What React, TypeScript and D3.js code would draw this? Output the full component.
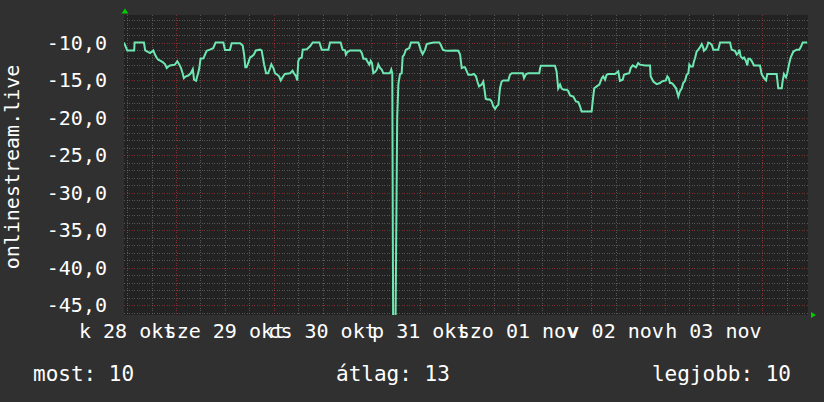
import React from 'react';
import * as d3 from 'd3';

// hours after the graph start (28 okt 11:14) and the measured value at that moment
const hours = [
  0, 0.8, 2.5, 2.6, 4.9, 5.2, 6.4, 7.2, 7.6, 8.0, 8.4, 9.0, 9.5, 10.1, 10.5, 10.9, 11.3, 12.5, 13.1, 13.6,
  14.0, 14.4, 14.7, 15.2, 15.8, 16.4, 16.9, 17.2, 17.7, 18.0, 18.35, 18.5, 18.8, 19.5, 20.3, 21.1, 21.9, 22.5, 24.4, 24.8,
  26.0, 26.45, 28.5, 29.15, 29.5, 29.8, 30.1, 30.5, 30.95, 31.4, 31.9, 32.4, 33.4,
  33.8, 34.4, 34.9, 35.4, 35.9, 36.2, 36.7, 37.1, 37.65, 38.1, 38.5, 39.0, 39.5, 40.8, 41.4, 41.75, 42.25, 42.55, 42.8, 43.05,
  43.65, 43.9, 44.9, 45.7, 46.35, 48.0, 48.55, 50.2, 50.6, 53.2, 53.7, 54.3, 54.5, 54.85, 55.5, 58.0, 58.4, 58.8, 59.4, 59.75,
  60.25, 60.6, 60.9, 61.25, 61.65, 62.1, 62.45, 62.9, 63.3, 63.7, 64.35, 65.3, 65.65, 65.9,
  66.1, 66.7, 66.95, 67.1, 67.4, 67.8,
  68.2, 68.45, 68.75, 69.25, 70.05, 70.5, 72.3, 72.85, 73.35, 73.95, 74.35, 75.15, 76.0, 77.45, 77.8, 78.3, 78.85, 79.65, 81.3, 82.1,
  82.55, 82.95, 83.35, 83.75, 84.2, 84.55, 85.4, 85.95, 86.45, 86.8, 87.2, 87.85, 88.25, 88.5, 88.85, 89.25, 89.9, 90.3, 90.7, 91.15,
  91.55, 91.95, 92.35, 92.75, 93.15, 94.4, 94.8, 95.25, 96.45, 97.95, 98.25, 98.75, 99.3, 100.55, 102.0, 102.2,
  102.4, 105.85, 106.25, 106.65, 107.1, 107.5, 108.05, 108.75, 109.1, 109.55, 110.35, 111.0, 111.6, 112.0, 112.4, 114.85, 115.25, 115.5, 116.1, 116.75,
  117.35, 117.7, 118.15, 118.55, 118.95, 120.6, 121.4, 121.8, 122.5, 122.8, 123.3, 124.1, 124.45, 124.95, 125.75, 126.3, 126.75, 127.95, 129.2, 129.35,
  130.0, 130.85, 131.65, 132.05, 132.65, 133.1, 133.45, 133.8, 134.1, 134.5, 134.9, 135.6, 136.15,
  136.55, 137.0, 137.35, 137.8, 138.2, 138.6, 138.85, 139.2, 139.7, 140.0, 140.25, 140.65, 141.05, 141.45, 141.9, 142.3, 142.45, 142.95, 143.25, 143.5,
  143.95, 144.35, 144.75, 145.95, 146.4, 148.85, 149.25, 150.05, 150.5, 150.9, 151.15, 151.45, 151.95, 152.3, 152.75, 153.1, 153.35, 153.75, 154.15, 154.75,
  156.2, 156.6, 157.2, 157.7, 158.0, 160.3, 160.7, 161.55, 161.75, 162.1, 162.6, 162.9, 163.4, 163.75, 164.4, 165.2, 165.85, 166.2, 166.7, 167.8,
];

const values = [
  -10, -11.05, -11.05, -10, -10, -11.05, -11.4, -11.05, -11.6, -12, -12.3, -12.45, -12.6, -12.9, -13.4, -13.2, -13.05, -12.95, -12.5, -12.95,
  -13.4, -14.1, -14.75, -14.5, -14.4, -14.1, -13.55, -14.95, -15.1, -14.5, -13.75, -13.4, -12.15, -12.1, -11.1, -10.95, -10.75, -10, -10, -11,
  -11, -10.1, -10.1, -10.4, -11.6, -13.3, -13.3, -12.75, -12, -11.85, -11.6, -11.05, -10.95,
  -11.05, -12.9, -14.1, -14.1, -13.4, -12.9, -13.4, -14.1, -14.3, -14.5, -15.05, -14.6, -14.2, -14.1, -13.75, -14.1, -14.5, -15.05, -12.5, -12.15,
  -12, -10.95, -10.9, -10.5, -10, -10, -10.95, -10.95, -10, -10, -10.95, -11.05, -11.6, -11.3, -11.05, -11.05, -11.4, -12.15, -12.15, -12.5,
  -12.95, -12.45, -12.75, -14.1, -13.95, -13.6, -12.9, -13.4, -13.6, -14.1, -14.1, -14.1, -13.6, -14.1,
  -47, -46.5, -30, -20, -15.5, -14.2,
  -14.1, -11.85, -11.7, -10.95, -10.75, -10, -10, -10.95, -11.55, -10.95, -10.2, -10.1, -10, -10, -10.3, -10.95, -11.05, -11.1, -11.05, -11.1,
  -11.6, -13.4, -13.3, -13.3, -13.85, -14.3, -14.3, -14.2, -14.5, -15.2, -15.85, -15.6, -15.2, -16.1, -17.5, -17.6, -17.6, -17.85, -18.5, -18.85,
  -18.5, -18.3, -16.1, -15.2, -15.05, -15.05, -14.3, -14.1, -14.1, -14.1, -14.75, -14.2, -14.1, -14.1, -14.1, -13.4,
  -13.1, -13.1, -13.85, -16.1, -15.6, -16.15, -16.3, -16.3, -16.45, -17.05, -17.2, -17.85, -17.95, -18.5, -19.2, -19.2, -17.2, -16.1, -15.85, -15.6,
  -14.75, -14.5, -14.95, -14.3, -14.2, -14.2, -13.85, -15.1, -14.95, -14.3, -14.2, -14.1, -13.4, -13.05, -13.3, -12.75, -12.95, -13.05, -13.05, -14.5,
  -15.2, -15.55, -15.4, -15.2, -15.1, -15.05, -14.5, -14.75, -15.4, -15.4, -15.6, -16.1, -17.2,
  -16.5, -16.1, -15.4, -15.1, -14.3, -14.1, -12.95, -13.2, -13.2, -12.5, -12.1, -11.2, -10.95, -10.65, -10.2, -10.75, -11.1, -10.85, -10.5, -10,
  -10.1, -10.3, -10.95, -10.95, -10, -10, -10.95, -11.1, -11.6, -11.4, -10.95, -11.85, -12.15, -12, -12.45, -13.05, -12.15, -12.15, -12.45, -13.05,
  -13.05, -14.2, -14.75, -15.05, -14.2, -14.2, -16.1, -16.1, -15.2, -14.2, -14.65, -14.1, -12.75, -12, -11.2, -10.95, -10.95, -10.65, -10, -10,
];

const yTicks = [-45, -40, -35, -30, -25, -20, -15, -10];
const yTitle = 'onlinestream.live';
const legendItems = ['most: 10', 'átlag: 13', 'legjobb: 10'];

const START = new Date(2025, 9, 28, 11, 14);
const END = new Date(2025, 10, 4, 11, 14);

const huTime = d3.timeFormatLocale({
  dateTime: '%Y. %B %-e. %X',
  date: '%Y. %m. %d.',
  time: '%H:%M:%S',
  periods: ['de.', 'du.'],
  days: ['vasárnap', 'hétfő', 'kedd', 'szerda', 'csütörtök', 'péntek', 'szombat'],
  shortDays: ['v', 'h', 'k', 'sze', 'cs', 'p', 'szo'],
  months: ['január', 'február', 'március', 'április', 'május', 'június', 'július', 'augusztus', 'szeptember', 'október', 'november', 'december'],
  shortMonths: ['jan', 'feb', 'már', 'ápr', 'máj', 'jún', 'júl', 'aug', 'szept', 'okt', 'nov', 'dec'],
});
const huNum = d3.formatLocale({ decimal: ',', thousands: ' ', grouping: [3], currency: ['', ''], minus: '-' });
const fmtY = huNum.format('.1f');
const fmtDay = huTime.format('%a %d %b');

const W = 824, H = 402;
const left = 124, right = 808, top = 15, bottom = 315;
const FONT = '"DejaVu Sans Mono", monospace';

export default function App() {
  const x = d3.scaleTime().domain([START, END]).range([left, right]);
  const y = d3.scaleLinear().domain([-46.33, -6.33]).range([bottom, top]);

  const points = hours.map((h, i) => ({ t: new Date(START.getTime() + h * 3600e3), v: values[i] }));
  const line = d3.line<any>().x(d => x(d.t)).y(d => y(d.v));

  const hourLines = d3.timeHour.every(6)!.range(START, END);
  const minorY = d3.range(-46, -6, 1).filter(v => v % 5 !== 0);
  const noonLabels = d3.timeDay.range(d3.timeDay.floor(START), END)
    .map(d => d3.timeHour.offset(d, 12))
    .filter(d => d >= START && d <= END);

  const grey = 'rgba(130,130,130,0.55)';
  const red = 'rgba(230,60,60,0.5)';

  return (
    <svg width={W} height={H} style={{ position: 'absolute', left: 0, top: 0, background: '#303030' }}>
      <defs>
        <clipPath id="plot">
          <rect x={left} y={top} width={right - left} height={bottom - top} />
        </clipPath>
      </defs>
      <rect x={0} y={0} width={W} height={H} fill="#303030" />
      <rect x={left} y={top} width={right - left} height={bottom - top} fill="#222222" />

      {/* minor grid */}
      {minorY.map(v => (
        <line key={'my' + v} x1={left} x2={right} y1={Math.round(y(v)) + 0.5} y2={Math.round(y(v)) + 0.5}
          stroke={grey} strokeDasharray="1,1.5" shapeRendering="crispEdges" />
      ))}
      {hourLines.filter(d => d.getHours() !== 0).map(d => (
        <line key={'mx' + d.getTime()} y1={top} y2={bottom} x1={Math.round(x(d)) + 0.5} x2={Math.round(x(d)) + 0.5}
          stroke={grey} strokeDasharray="1,1.5" shapeRendering="crispEdges" />
      ))}
      {/* major grid */}
      {yTicks.map(v => (
        <line key={'My' + v} x1={left} x2={right} y1={Math.round(y(v)) + 0.5} y2={Math.round(y(v)) + 0.5}
          stroke={red} strokeDasharray="1,1.5" shapeRendering="crispEdges" />
      ))}
      {hourLines.filter(d => d.getHours() === 0).map(d => (
        <line key={'Mx' + d.getTime()} y1={top} y2={bottom} x1={Math.round(x(d)) + 0.5} x2={Math.round(x(d)) + 0.5}
          stroke={red} strokeDasharray="1,1.5" shapeRendering="crispEdges" />
      ))}

      <path d={line(points) || ''} fill="none" stroke="#6ee8b2" strokeWidth={2} strokeLinejoin="miter" clipPath="url(#plot)" />

      {/* axis arrows */}
      <path d={`M${left - 2.5},13.5 L${left + 1},8.5 L${left + 4.5},13.5 Z`} fill="#00cc00" />
      <path d={`M${right + 3},${bottom - 3} L${right + 8},${bottom} L${right + 3},${bottom + 3} Z`} fill="#00cc00" />

      {yTicks.map(v => (
        <text key={'yt' + v} x={107} y={y(v) + 7} textAnchor="end" fill="#ffffff" fontFamily={FONT} fontSize={20}>
          {fmtY(v)}
        </text>
      ))}
      {noonLabels.map(d => (
        <text key={'xt' + d.getTime()} x={x(d)} y={338} textAnchor="middle" fill="#ffffff" fontFamily={FONT} fontSize={20}>
          {fmtDay(d)}
        </text>
      ))}
      <text transform="translate(18.5,167) rotate(-90)" textAnchor="middle" fill="#ffffff" fontFamily={FONT} fontSize={20}>
        {yTitle}
      </text>

      <text x={33} y={381} fill="#ffffff" fontFamily={FONT} fontSize={21}>{legendItems[0]}</text>
      <text x={336} y={381} fill="#ffffff" fontFamily={FONT} fontSize={21}>{legendItems[1]}</text>
      <text x={791} y={381} textAnchor="end" fill="#ffffff" fontFamily={FONT} fontSize={21}>{legendItems[2]}</text>
    </svg>
  );
}
